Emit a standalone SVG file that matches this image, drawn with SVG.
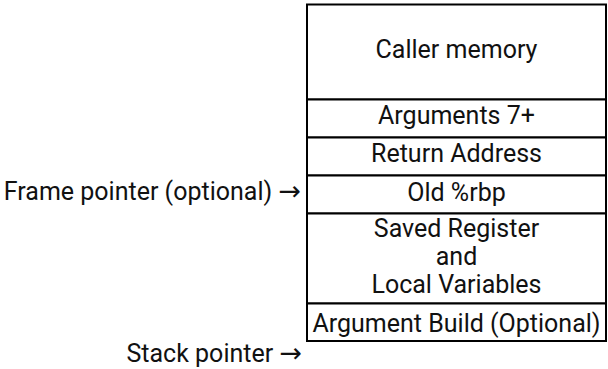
<svg xmlns="http://www.w3.org/2000/svg" width="608" height="369" viewBox="0 0 608 369">
<style>
.cell{fill:#fff;stroke:#000;stroke-width:2}
.t{font-family:Roboto,"Liberation Sans",sans-serif;font-size:25px;fill:#111;text-anchor:middle}
.l{font-family:Roboto,"Liberation Sans",sans-serif;font-size:25px;fill:#111;text-anchor:end}
.ar{font-family:"DejaVu Sans",sans-serif;font-size:27px}
</style>
<rect x="0" y="0" width="608" height="369" fill="#fff"/>
<g id="caller"><rect class="cell" x="307" y="4.5" width="299" height="95"/><text class="t" x="456.5" y="58">Caller memory</text></g>
<g id="args"><rect class="cell" x="307" y="99.5" width="299" height="38"/><text class="t" x="456.5" y="124">Arguments 7+</text></g>
<g id="ret"><rect class="cell" x="307" y="137.5" width="299" height="38"/><text class="t" x="456.5" y="162">Return Address</text></g>
<g id="rbp"><rect class="cell" x="307" y="175.5" width="299" height="38"/><text class="t" x="456.5" y="201">Old %rbp</text></g>
<g id="saved"><rect class="cell" x="307" y="213.5" width="299" height="90"/><text class="t" x="456.5" y="237">Saved Register</text><text class="t" x="456.5" y="265">and</text><text class="t" x="456.5" y="293">Local Variables</text></g>
<g id="build"><rect class="cell" x="307" y="303.5" width="299" height="37.5"/><text class="t" x="456.5" y="332">Argument Build (Optional)</text></g>
<g id="fp"><text class="l" x="301" y="200">Frame pointer (optional) <tspan class="ar">→</tspan></text></g>
<g id="sp"><text class="l" x="302" y="362">Stack pointer <tspan class="ar">→</tspan></text></g>
<g id="connectors"></g>
</svg>
